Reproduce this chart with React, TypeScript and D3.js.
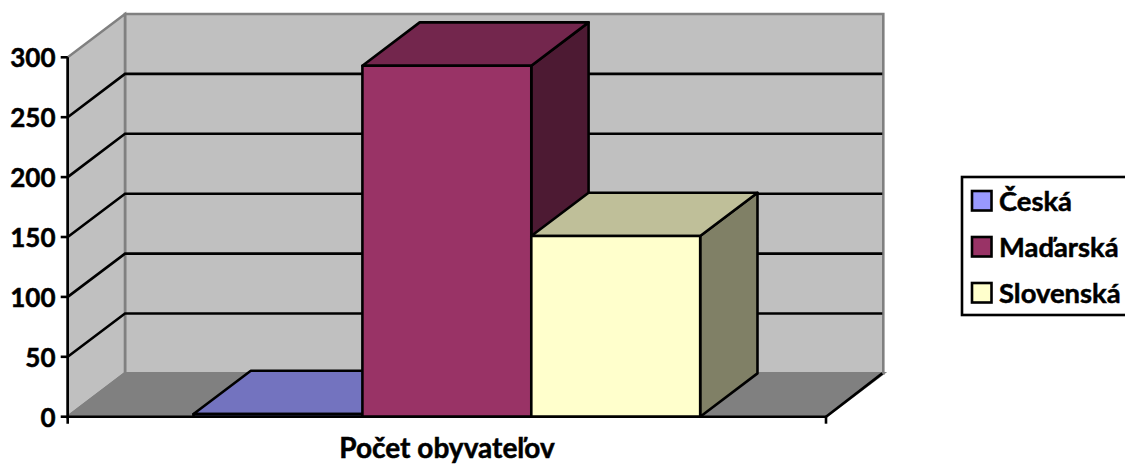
import React from "react";
import * as d3 from "d3";

const categoryLabel = "Počet obyvateľov";
const seriesNames = ["Česká", "Maďarská", "Slovenská"];
const seriesValues = [2.2, 293, 150.8];
const frontColors = ["#9999FF", "#993366", "#FFFFCC"];
const topColors = ["#7373BF", "#73264D", "#BFBF99"];
const sideColors = ["#4D4D80", "#4D1A33", "#808066"];
const yTicks = [0, 50, 100, 150, 200, 250, 300];

const W = 1125, H = 464;
const X0 = 67.7, X1 = 826;
const DX = 57.3, DY = -43.3;
const LW = 2.6;
const y = d3.scaleLinear().domain([0, 300]).range([416.7, 57.3]);
const x = d3.scaleBand<string>().domain(seriesNames).range([X0, X1]).paddingInner(0).paddingOuter(0.745);
const FONT = "Lato, 'Open Sans', sans-serif";

const poly = (pts: [number, number][]) => d3.line()(pts)! + "Z";

const textStyle = { stroke: "#000", strokeWidth: 0.5, paintOrder: "stroke" } as React.CSSProperties;

export default function App() {
  const y0 = y(0), yT = y(300);
  return (
    <svg width={W} height={H} style={{ position: "absolute", left: 0, top: 0, background: "#fff" }} fontFamily={FONT} fontWeight={700}>
      {/* walls */}
      <path d={poly([[X0 + DX, y0 + DY], [X1 + DX, y0 + DY], [X1 + DX, yT + DY], [X0 + DX, yT + DY]])} fill="#C0C0C0" stroke="#808080" strokeWidth={LW} />
      <path d={poly([[X0, y0], [X0 + DX, y0 + DY], [X0 + DX, yT + DY], [X0, yT]])} fill="#C0C0C0" stroke="#808080" strokeWidth={LW} />
      <path d={poly([[X0, y0], [X1, y0], [X1 + DX, y0 + DY], [X0 + DX, y0 + DY]])} fill="#808080" stroke="#808080" strokeWidth={LW} />
      {/* gridlines */}
      {yTicks.slice(1, -1).map((t) => (
        <path key={t} d={d3.line()([[X0, y(t)], [X0 + DX, y(t) + DY], [X1 + DX - 1, y(t) + DY]])!} fill="none" stroke="#000" strokeWidth={LW} />
      ))}
      {/* floor front edge */}
      <line x1={X1} y1={y0} x2={X1 + DX - 1} y2={y0 + DY} stroke="#000" strokeWidth={LW} />
      {/* bars */}
      {seriesNames.map((name, i) => {
        const xl = x(name)!, xr = xl + x.bandwidth(), yt = y(seriesValues[i]);
        return (
          <g key={name} stroke="#000" strokeWidth={LW} strokeLinejoin="round">
            <path d={poly([[xr, y0], [xr + DX, y0 + DY], [xr + DX, yt + DY], [xr, yt]])} fill={sideColors[i]} />
            <path d={poly([[xl, yt], [xr, yt], [xr + DX, yt + DY], [xl + DX, yt + DY]])} fill={topColors[i]} />
            <rect x={xl} y={yt} width={x.bandwidth()} height={y0 - yt} fill={frontColors[i]} />
          </g>
        );
      })}
      {/* axes */}
      <line x1={X0} y1={yT} x2={X0} y2={y0 + 7} stroke="#000" strokeWidth={LW} />
      <line x1={X0} y1={y0} x2={X1} y2={y0} stroke="#000" strokeWidth={LW} />
      <line x1={X1} y1={y0} x2={X1} y2={y0 + 7} stroke="#000" strokeWidth={LW} />
      {yTicks.map((t) => (
        <g key={t}>
          <line x1={X0 - 7} x2={X0} y1={y(t)} y2={y(t)} stroke="#000" strokeWidth={LW} />
          <text x={55.5} y={y(t) + 10} textAnchor="end" fontSize={26} fill="#000" style={textStyle}>{t}</text>
        </g>
      ))}
      <text x={447} y={458} textAnchor="middle" fontSize={28} fill="#000" style={textStyle}>{categoryLabel}</text>
      {/* legend */}
      <rect x={962} y={177} width={190} height={138} fill="#fff" stroke="#000" strokeWidth={LW} />
      {seriesNames.map((name, i) => {
        const cy = 201 + i * 46;
        return (
          <g key={name}>
            <rect x={972} y={cy - 10} width={19.5} height={19.5} fill={frontColors[i]} stroke="#000" strokeWidth={LW} />
            <text x={999} y={cy + 10} fontSize={27.4} fill="#000" style={textStyle}>{name}</text>
          </g>
        );
      })}
    </svg>
  );
}
